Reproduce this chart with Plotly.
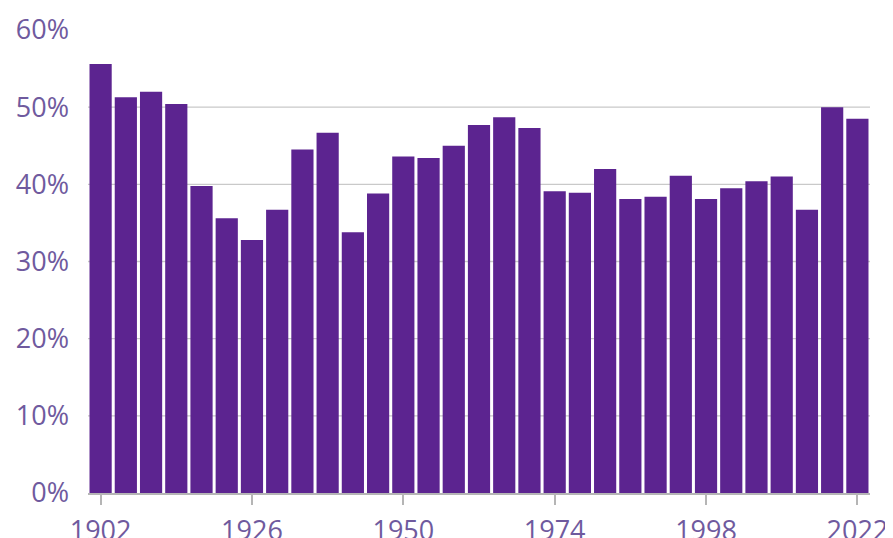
import plotly.graph_objects as go

years = list(range(1902, 2023, 4))
shares = [55.6, 51.3, 52.0, 50.4, 39.8, 35.6, 32.8, 36.7, 44.5, 46.7,
          33.8, 38.8, 43.6, 43.4, 45.0, 47.7, 48.7, 47.3, 39.1, 38.9,
          42.0, 38.1, 38.4, 41.1, 38.1, 39.5, 40.4, 41.0, 36.7, 50.0, 48.5]
x_ticks = [1902, 1926, 1950, 1974, 1998, 2022]
y_ticks = [0, 10, 20, 30, 40, 50, 60]
grid_levels = [10, 20, 30, 40, 50]

BAR = "#5c2490"
LABEL = "#6f5a9e"
FONT = "Open Sans"

fig = go.Figure()
fig.add_trace(go.Bar(x=years, y=shares, marker=dict(color=BAR, line=dict(width=0)),
                     hoverinfo="skip"))

for g in grid_levels:
    fig.add_hline(y=g, line=dict(color="#c9c9c9", width=1.3), layer="below")

# page body has an 8px margin, so the figure is sized to fit the 893x538 window
fig.update_layout(
    width=885, height=530,
    margin=dict(l=80, r=23, t=22, b=45),
    paper_bgcolor="white", plot_bgcolor="white",
    bargap=0.12,
    showlegend=False,
    font=dict(family=FONT, size=27, color=LABEL),
)
fig.update_xaxes(
    range=[1900, 2024], tickvals=x_ticks, ticktext=[str(v) for v in x_ticks],
    showgrid=False, zeroline=False, automargin=False,
    showline=True, linecolor="#b5b5b5", linewidth=2,
    ticks="outside", ticklen=10, tickwidth=2, tickcolor="#b5b5b5",
    ticklabelstandoff=3,
    tickfont=dict(family=FONT, size=27, color=LABEL),
)
fig.update_yaxes(
    range=[0, 60], tickvals=y_ticks, ticktext=[f"{v}%" for v in y_ticks],
    showgrid=False, zeroline=False, showline=False, automargin=False,
    ticks="", ticklabelstandoff=18,
    tickfont=dict(family=FONT, size=27, color=LABEL),
)

fig.write_html("out.html")
